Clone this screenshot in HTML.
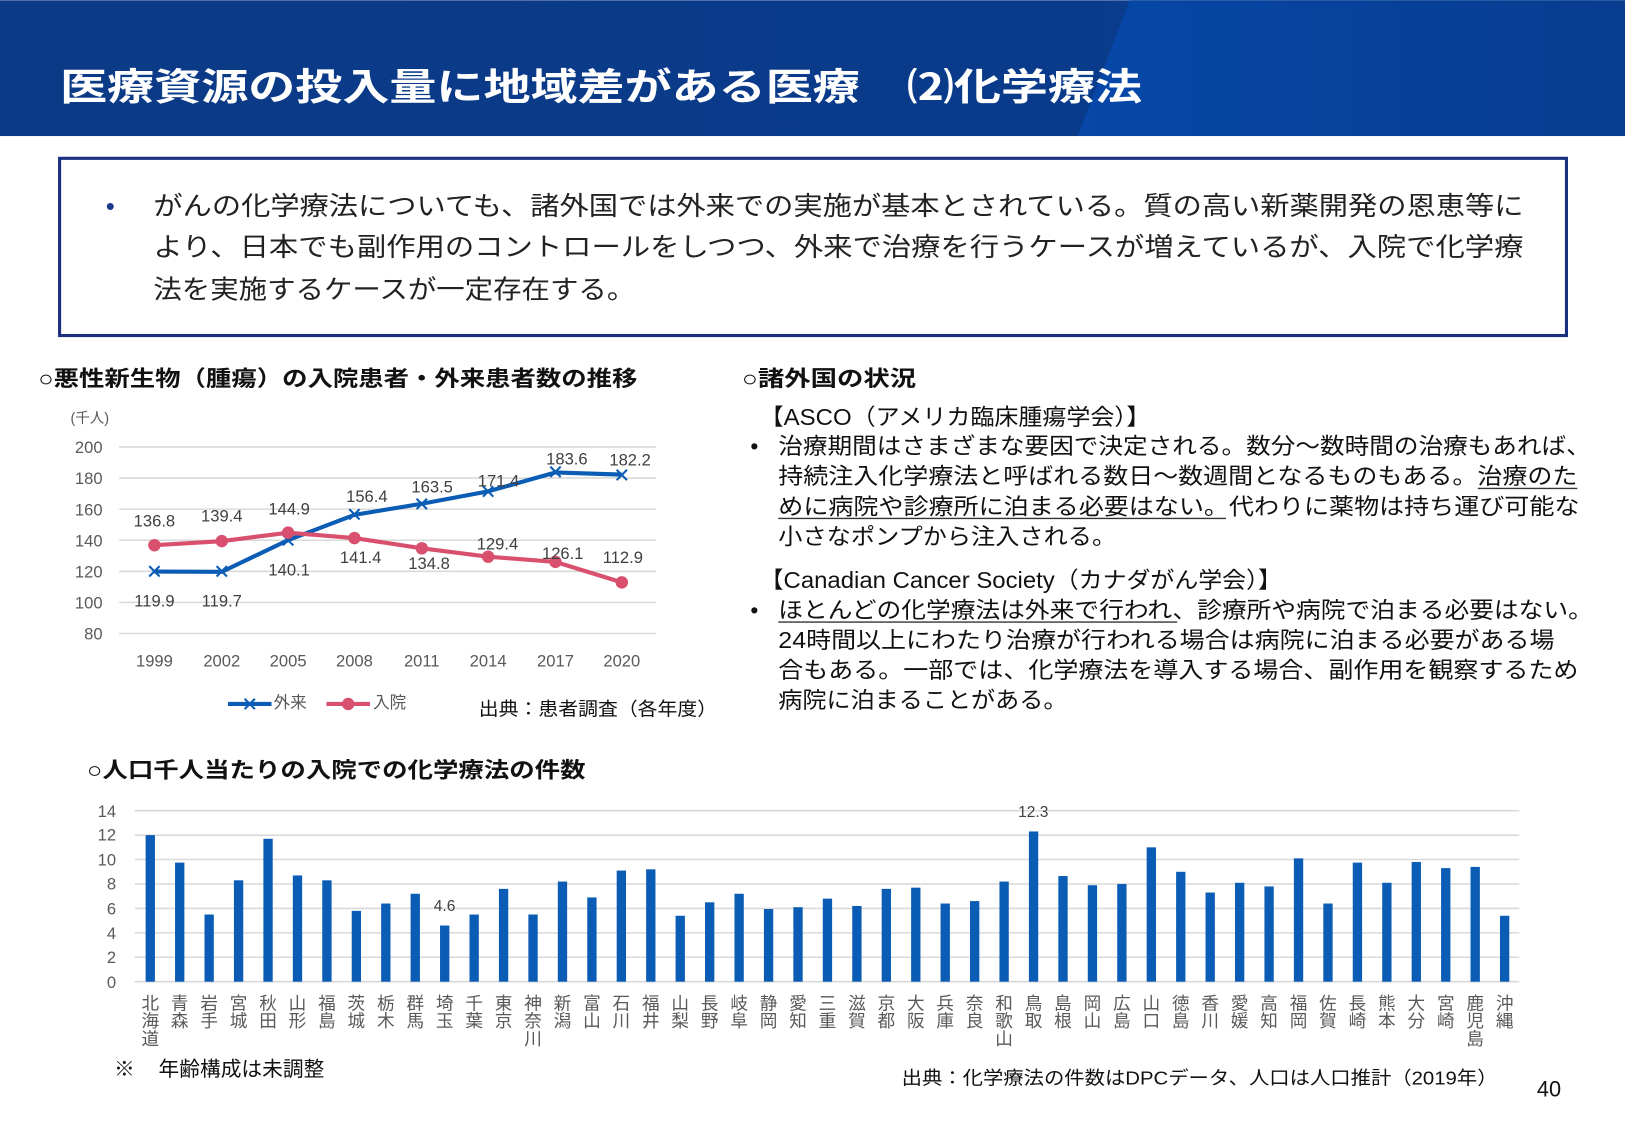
<!DOCTYPE html>
<html><head><meta charset="utf-8"><style>
html,body{margin:0;padding:0;background:#fff;}
svg{display:block;}
text{font-family:"Liberation Sans","Noto Sans CJK JP",sans-serif;}
</style></head><body>
<svg width="1625" height="1125" viewBox="0 0 1568 1085" xmlns="http://www.w3.org/2000/svg">
<defs>
<linearGradient id="hg" x1="0" y1="0" x2="1" y2="0">
<stop offset="0" stop-color="#0b3a86"/><stop offset="1" stop-color="#0a3c8e"/>
</linearGradient>
<linearGradient id="hg2" x1="0" y1="0" x2="1" y2="0">
<stop offset="0" stop-color="#0647a8"/><stop offset="1" stop-color="#083c8f"/>
</linearGradient>
</defs>
<rect x="0" y="0" width="1568" height="131" fill="url(#hg)"/>
<polygon points="1090,0 1568,0 1568,131 1040,131" fill="url(#hg2)"/>
<text x="58" y="96" font-size="36" font-weight="bold" fill="#fff" textLength="1044" lengthAdjust="spacingAndGlyphs">医療資源の投入量に地域差がある医療　⑵化学療法</text>

<rect x="57.5" y="152.5" width="1454" height="171" fill="#fff" stroke="#1a2f80" stroke-width="3"/>
<g font-size="25" fill="#222">
<text x="102" y="207" fill="#1a3a8a">•</text>
<text x="148" y="207" textLength="1322" lengthAdjust="spacingAndGlyphs">がんの化学療法についても、諸外国では外来での実施が基本とされている。質の高い新薬開発の恩恵等に</text>
<text x="148" y="247" textLength="1322" lengthAdjust="spacingAndGlyphs">より、日本でも副作用のコントロールをしつつ、外来で治療を行うケースが増えているが、入院で化学療</text>
<text x="148" y="288" textLength="465" lengthAdjust="spacingAndGlyphs">法を実施するケースが一定存在する。</text>
</g>

<g font-size="21" font-weight="bold" fill="#111">
<text x="37" y="372" textLength="578" lengthAdjust="spacingAndGlyphs">○悪性新生物（腫瘍）の入院患者・外来患者数の推移</text>
<text x="716" y="372" textLength="168" lengthAdjust="spacingAndGlyphs">○諸外国の状況</text>
<text x="84" y="750" textLength="481" lengthAdjust="spacingAndGlyphs">○人口千人当たりの入院での化学療法の件数</text>
</g>

<g stroke="#d9d9d9" stroke-width="1.5">
<line x1="115" y1="431" x2="633" y2="431"/><line x1="115" y1="461" x2="633" y2="461"/>
<line x1="115" y1="491" x2="633" y2="491"/><line x1="115" y1="521" x2="633" y2="521"/>
<line x1="115" y1="551" x2="633" y2="551"/><line x1="115" y1="581" x2="633" y2="581"/>
<line x1="115" y1="611" x2="633" y2="611"/>
</g>
<g font-size="16" fill="#595959" text-anchor="end">
<text x="99" y="437">200</text><text x="99" y="467">180</text><text x="99" y="497">160</text>
<text x="99" y="527">140</text><text x="99" y="557">120</text><text x="99" y="587">100</text><text x="99" y="617">80</text>
</g>
<text x="68" y="408" font-size="14" fill="#595959">(千人)</text>
<g font-size="16" fill="#595959" text-anchor="middle">
<text x="149" y="643">1999</text><text x="214" y="643">2002</text><text x="278" y="643">2005</text><text x="342" y="643">2008</text>
<text x="407" y="643">2011</text><text x="471" y="643">2014</text><text x="536" y="643">2017</text><text x="600" y="643">2020</text>
</g>
<polyline points="149,551.2 214,551.5 278,520.9 342,496.5 407,485.8 471,473.9 536,455.6 600,457.7" fill="none" stroke="#0b5cb5" stroke-width="4"/>
<g stroke="#0b5cb5" stroke-width="2">
<path d="M144,546l10,10M154,546l-10,10M209,546l10,10M219,546l-10,10M273,516l10,10M283,516l-10,10M337,491l10,10M347,491l-10,10M402,481l10,10M412,481l-10,10M466,469l10,10M476,469l-10,10M531,450l10,10M541,450l-10,10M595,453l10,10M605,453l-10,10"/>
</g>
<polyline points="149,525.8 214,521.9 278,513.7 342,518.9 407,528.8 471,536.9 536,541.9 600,561.7" fill="none" stroke="#d9506e" stroke-width="4"/>
<g fill="#d9506e">
<circle cx="149" cy="525.8" r="6"/><circle cx="214" cy="521.9" r="6"/><circle cx="278" cy="513.7" r="6"/><circle cx="342" cy="518.9" r="6"/>
<circle cx="407" cy="528.8" r="6"/><circle cx="471" cy="536.9" r="6"/><circle cx="536" cy="541.9" r="6"/><circle cx="600" cy="561.7" r="6"/>
</g>
<g font-size="16" fill="#404040" text-anchor="middle">
<text x="149" y="508">136.8</text><text x="214" y="503">139.4</text><text x="279" y="496">144.9</text>
<text x="149" y="585">119.9</text><text x="214" y="585">119.7</text><text x="279" y="555">140.1</text>
<text x="348" y="543">141.4</text><text x="414" y="549">134.8</text><text x="480" y="530">129.4</text><text x="543" y="539">126.1</text><text x="601" y="543">112.9</text>
<text x="354" y="484">156.4</text><text x="417" y="475">163.5</text><text x="481" y="469">171.4</text><text x="547" y="448">183.6</text><text x="608" y="449">182.2</text>
</g>
<line x1="220" y1="679" x2="262" y2="679" stroke="#0b5cb5" stroke-width="4"/>
<path d="M236,674l10,10M246,674l-10,10" stroke="#0b5cb5" stroke-width="2"/>
<text x="264" y="683" font-size="16" fill="#595959">外来</text>
<line x1="315" y1="679" x2="357" y2="679" stroke="#d9506e" stroke-width="4"/>
<circle cx="336" cy="679" r="6" fill="#d9506e"/>
<text x="360" y="683" font-size="16" fill="#595959">入院</text>
<text x="462" y="690" font-size="18" fill="#111" textLength="230" lengthAdjust="spacingAndGlyphs">出典：患者調査（各年度）</text>

<g font-size="22" fill="#111">
<text x="733" y="410" textLength="377" lengthAdjust="spacingAndGlyphs">【ASCO（アメリカ臨床腫瘍学会）】</text>
<text x="724" y="438">•</text>
<text x="751" y="438" textLength="784" lengthAdjust="spacingAndGlyphs">治療期間はさまざまな要因で決定される。数分～数時間の治療もあれば、</text>
<text x="751" y="467" textLength="771" lengthAdjust="spacingAndGlyphs">持続注入化学療法と呼ばれる数日～数週間となるものもある。治療のた</text>
<text x="751" y="496" textLength="773" lengthAdjust="spacingAndGlyphs">めに病院や診療所に泊まる必要はない。代わりに薬物は持ち運び可能な</text>
<text x="751" y="525" textLength="326" lengthAdjust="spacingAndGlyphs">小さなポンプから注入される。</text>
<text x="733" y="567" textLength="504" lengthAdjust="spacingAndGlyphs">【Canadian Cancer Society（カナダがん学会）】</text>
<text x="724" y="596">•</text>
<text x="751" y="596" textLength="786" lengthAdjust="spacingAndGlyphs">ほとんどの化学療法は外来で行われ、診療所や病院で泊まる必要はない。</text>
<text x="751" y="625" textLength="749" lengthAdjust="spacingAndGlyphs">24時間以上にわたり治療が行われる場合は病院に泊まる必要がある場</text>
<text x="751" y="654" textLength="772" lengthAdjust="spacingAndGlyphs">合もある。一部では、化学療法を導入する場合、副作用を観察するため</text>
<text x="751" y="683" textLength="279" lengthAdjust="spacingAndGlyphs">病院に泊まることがある。</text>
</g>
<g stroke="#333" stroke-width="1.3">
<line x1="1426" y1="471" x2="1522" y2="471"/>
<line x1="751" y1="500" x2="1183" y2="500"/>
<line x1="751" y1="600" x2="1136" y2="600"/>
</g>

<g stroke="#d9d9d9" stroke-width="1.5">
<line x1="130" y1="782" x2="1466" y2="782"/><line x1="130" y1="805.6" x2="1466" y2="805.6"/>
<line x1="130" y1="829.1" x2="1466" y2="829.1"/><line x1="130" y1="852.7" x2="1466" y2="852.7"/>
<line x1="130" y1="876.3" x2="1466" y2="876.3"/><line x1="130" y1="899.9" x2="1466" y2="899.9"/>
<line x1="130" y1="923.4" x2="1466" y2="923.4"/><line x1="130" y1="947" x2="1466" y2="947"/>
</g>
<g font-size="16" fill="#595959" text-anchor="end">
<text x="112" y="788">14</text><text x="112" y="811">12</text><text x="112" y="835">10</text><text x="112" y="858">8</text>
<text x="112" y="882">6</text><text x="112" y="906">4</text><text x="112" y="929">2</text><text x="112" y="953">0</text>
</g>
<g id="bars" fill="#0b5cb5"></g>
<g id="labels" font-size="17" fill="#595959"></g>
<text x="429" y="879" font-size="15" fill="#404040" text-anchor="middle">4.6</text>
<text x="997" y="788" font-size="15" fill="#404040" text-anchor="middle">12.3</text>
<text x="110" y="1038" font-size="20" fill="#111">※</text>
<text x="153" y="1038" font-size="20" fill="#111">年齢構成は未調整</text>
<text x="870" y="1046" font-size="18" fill="#111" textLength="575" lengthAdjust="spacingAndGlyphs">出典：化学療法の件数はDPCデータ、人口は人口推計（2019年）</text>
<text x="1483" y="1058" font-size="21" fill="#111">40</text>
</svg>
<script>
var v=[12.0,9.75,5.5,8.3,11.7,8.7,8.3,5.8,6.4,7.2,4.6,5.5,7.6,5.5,8.2,6.9,9.1,9.2,5.4,6.5,7.2,5.95,6.1,6.8,6.2,7.6,7.7,6.4,6.6,8.2,12.3,8.65,7.9,8.0,11.0,9.0,7.3,8.1,7.8,10.1,6.4,9.75,8.1,9.8,9.3,9.4,5.4];
var n="北海道,青森,岩手,宮城,秋田,山形,福島,茨城,栃木,群馬,埼玉,千葉,東京,神奈川,新潟,富山,石川,福井,山梨,長野,岐阜,静岡,愛知,三重,滋賀,京都,大阪,兵庫,奈良,和歌山,鳥取,島根,岡山,広島,山口,徳島,香川,愛媛,高知,福岡,佐賀,長崎,熊本,大分,宮崎,鹿児島,沖縄".split(",");
var NS="http://www.w3.org/2000/svg",b=document.getElementById("bars"),l=document.getElementById("labels");
for(var i=0;i<47;i++){var x=145+i*28.41,h=v[i]*11.786;
var r=document.createElementNS(NS,"rect");r.setAttribute("x",x-4.5);r.setAttribute("y",947-h);r.setAttribute("width",9);r.setAttribute("height",h);b.appendChild(r);
var t=document.createElementNS(NS,"text");t.setAttribute("x",x);t.setAttribute("y",959);t.setAttribute("writing-mode","tb");t.setAttribute("style","writing-mode:vertical-rl;font-family:'Noto Sans CJK JP',sans-serif");t.textContent=n[i];l.appendChild(t);}
</script>
</body></html>
